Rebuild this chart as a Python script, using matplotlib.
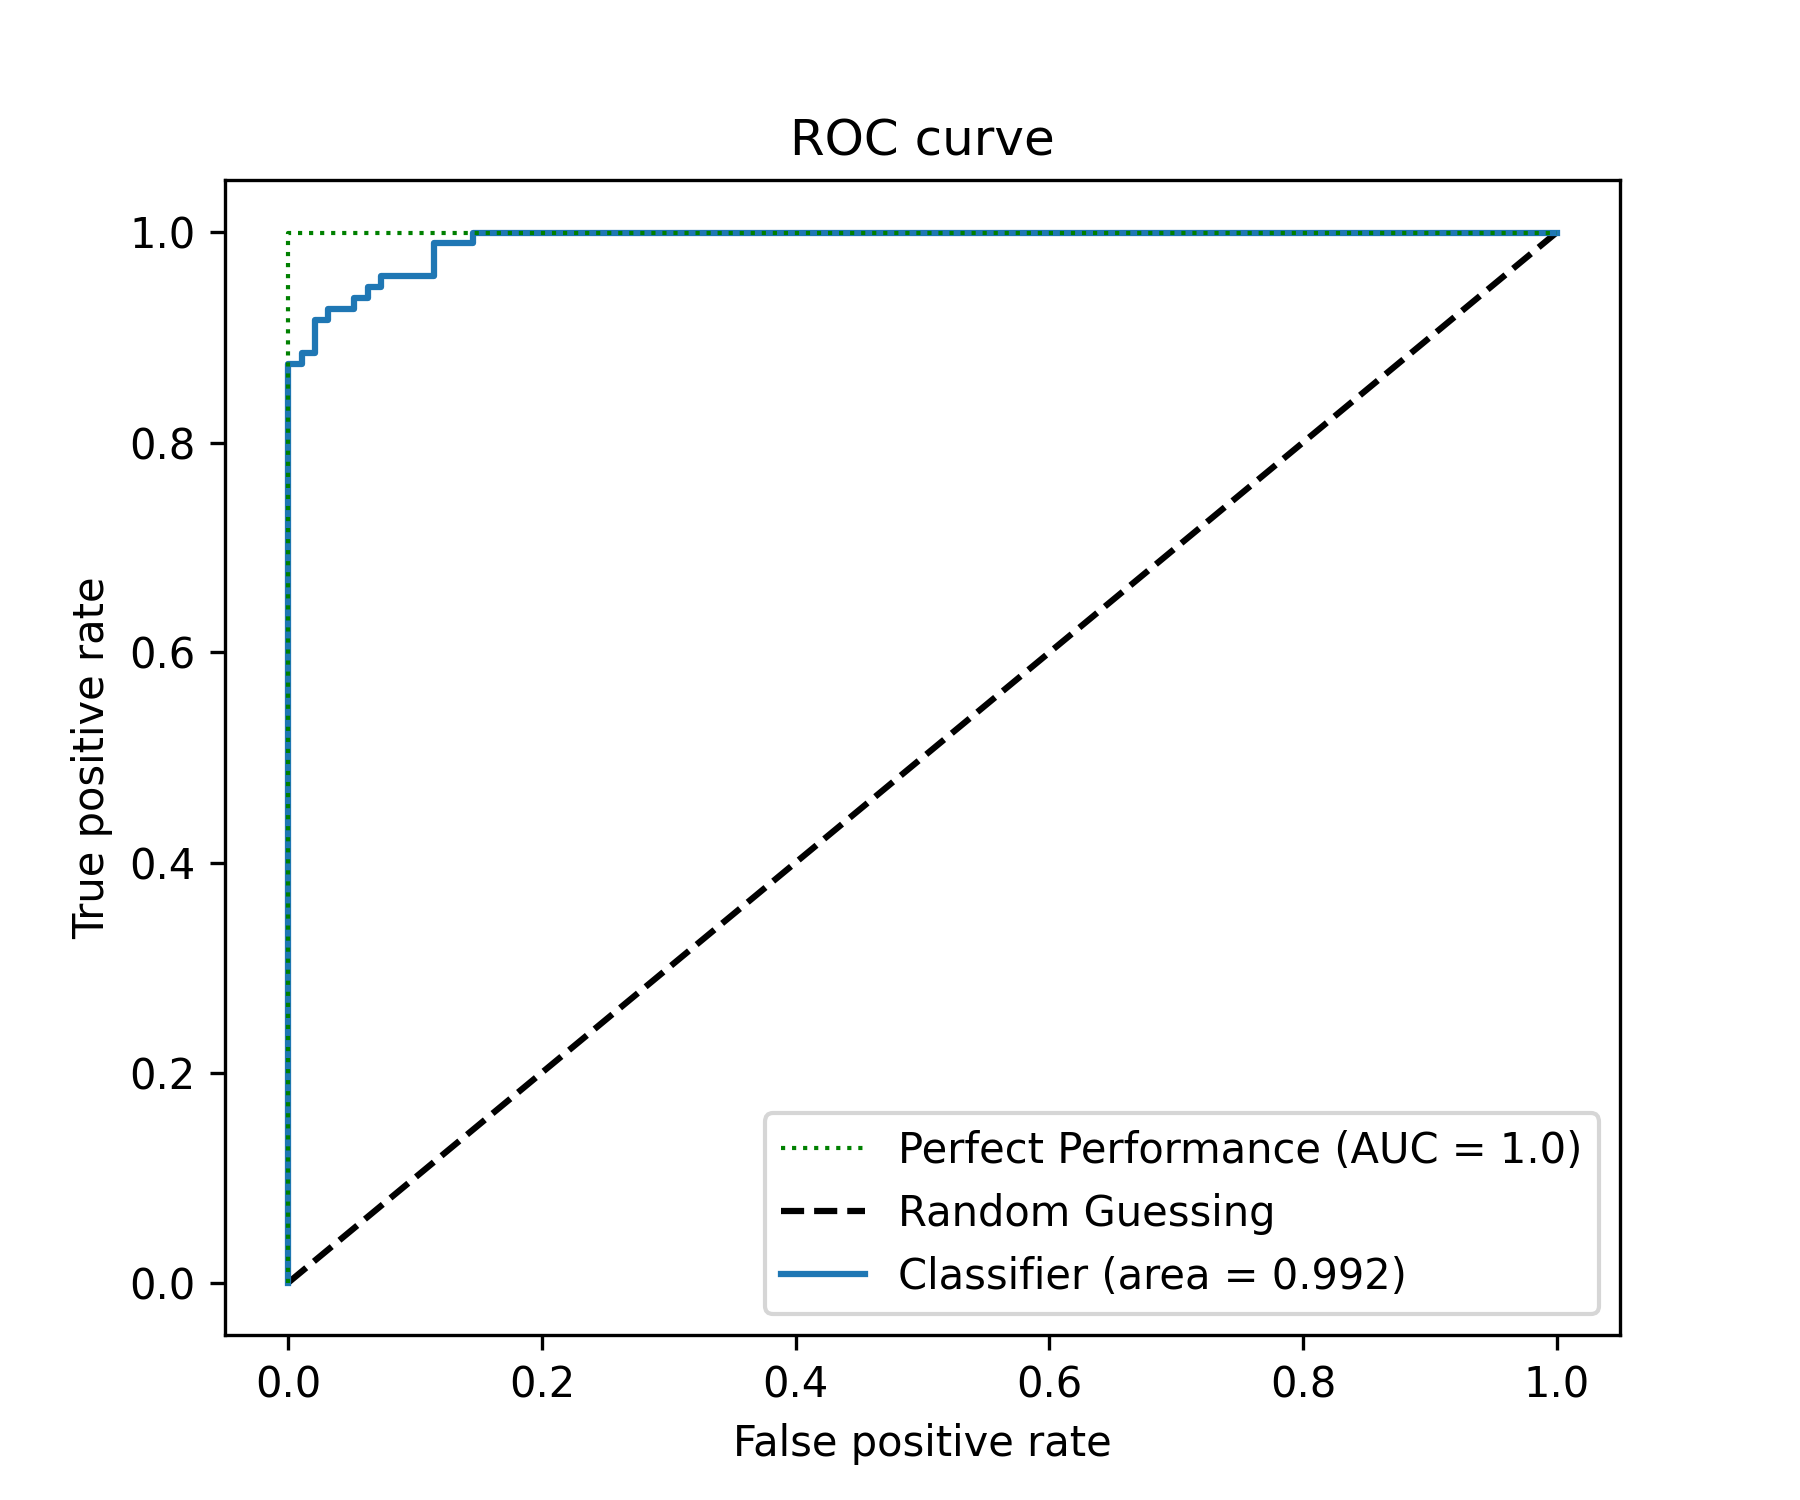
import numpy as np
import matplotlib
matplotlib.use('Agg')
import matplotlib.pyplot as plt

n = 96
fp_counts = [0, 0, 1, 1, 2, 2, 3, 3, 5, 5, 6, 6, 7, 7, 11, 11, 14, 14, 96]
tp_counts = [0, 84, 84, 85, 85, 88, 88, 89, 89, 90, 90, 91, 91, 92, 92, 95, 95, 96, 96]
fpr = np.array(fp_counts) / n
tpr = np.array(tp_counts) / n
auc = 0.992

perfect_x = [0, 0, 1]
perfect_y = [0, 1, 1]
random_x = [0, 1]
random_y = [0, 1]

fig = plt.figure(figsize=(6, 5), dpi=300)
# green dotted sits above the classifier line in the original
plt.plot(perfect_x, perfect_y, 'g:', lw=1, zorder=3, label='Perfect Performance (AUC = 1.0)')
plt.plot(random_x, random_y, 'k--', label='Random Guessing')
plt.plot(fpr, tpr, label='Classifier (area = %0.3f)' % auc)
plt.xlabel('False positive rate')
plt.ylabel('True positive rate')
plt.title('ROC curve')
plt.legend(loc='lower right')
plt.savefig('out.png', dpi=300)
